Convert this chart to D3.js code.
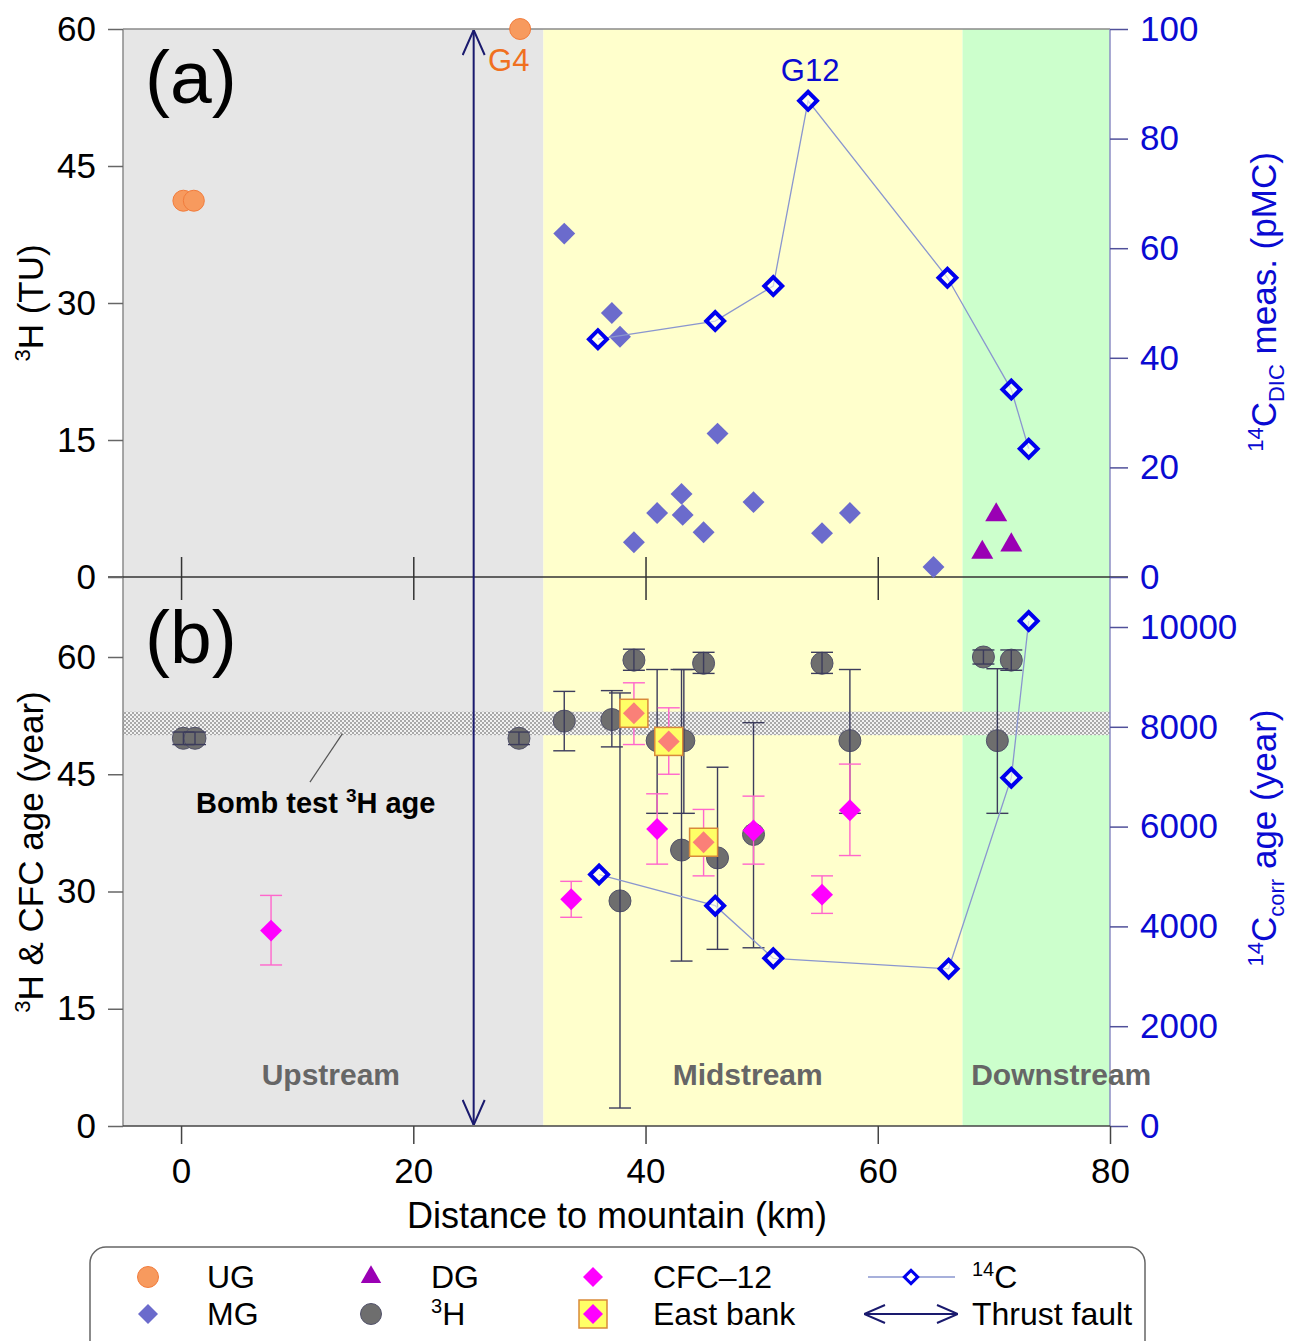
<!DOCTYPE html>
<html>
<head>
<meta charset="utf-8">
<script src="https://cdn.jsdelivr.net/npm/d3@7"></script>
<style>
body { margin: 0; background: #fff; }
text { font-family: "Liberation Sans", Arial, sans-serif; }
</style>
</head>
<body>
<script>
// ---- data ----
const zoneNames = ['Upstream', 'Midstream', 'Downstream']
const zoneEdges = [-5, 31.2, 67.3, 80]
const zoneLabelKm = [12.9, 48.8, 75.8]

const faultKm = 25.2
const bombBand = [50.0, 53.0]

// panel (a): 3H (TU)
const ugDist = [0.2, 1.1, 29.2]
const ugTU = [41.2, 41.2, 60.0]
const mgDist = [33.0, 37.1, 37.8, 46.2, 43.1, 41.0, 43.2, 45.0, 39.0, 49.3, 55.2, 57.6, 64.8]
const mgTU = [37.6, 28.9, 26.3, 15.7, 9.1, 7.0, 6.8, 4.9, 3.8, 8.2, 4.8, 7.0, 1.1]
const dgDist = [70.2, 69.0, 71.5]
const dgTU = [6.8, 2.7, 3.5]
// panel (a): 14C meas. (pMC)
const c14Dist = [35.9, 46.0, 51.0, 54.0, 66.0, 71.5, 73.0]
const c14pMC = [43.4, 46.7, 53.1, 86.9, 54.6, 34.2, 23.4]

// panel (b): 3H age (year)
const h3Dist = [0.2, 1.2, 29.1, 33.0, 37.1, 37.8, 39.0, 41.0, 43.3, 43.1, 45.0, 46.2, 49.3, 55.2, 57.6, 69.1, 71.5, 70.3]
const h3Age  = [49.6, 49.6, 49.6, 51.8, 52.0, 28.8, 59.6, 49.3, 49.3, 35.3, 59.2, 34.3, 37.3, 59.2, 49.3, 60.0, 59.6, 49.3]
const h3Lo   = [48.8, 48.8, 48.8, 48.0, 48.5, 2.3, 58.3, 40.0, 40.0, 21.1, 57.9, 22.6, 22.8, 57.9, 40.0, 59.1, 58.3, 40.0]
const h3Hi   = [50.4, 50.4, 50.4, 55.6, 55.7, 55.4, 61.0, 58.4, 58.4, 58.4, 60.6, 45.9, 51.6, 60.6, 58.4, 60.9, 60.9, 58.5]
// panel (b): CFC-12 age
const cfcDist = [7.75, 33.6, 41.0, 49.3, 55.2, 57.6]
const cfcAge = [25.0, 29.0, 38.0, 37.8, 29.6, 40.4]
const cfcLo = [20.6, 26.7, 33.5, 33.5, 27.2, 34.6]
const cfcHi = [29.5, 31.3, 42.5, 42.2, 32.0, 46.3]
// panel (b): east bank CFC-12
const ebDist = [39.0, 42.0, 45.0]
const ebAge = [52.8, 49.2, 36.3]
const ebLo = [48.8, 45.0, 32.0]
const ebHi = [56.7, 53.5, 40.5]
// panel (b): 14C corrected age
const c14AgeDist = [36.0, 46.0, 51.0, 66.1, 71.5, 73.0]
const c14Age = [5040, 4415, 3360, 3150, 6980, 10120]

const xTicks = [0, 20, 40, 60, 80]
const yTicksL = [0, 15, 30, 45, 60]
const yTicksA2 = [0, 20, 40, 60, 80, 100]
const yTicksB2 = [0, 2000, 4000, 6000, 8000, 10000]

// ---- layout ----
const zoneColors = ['#e6e6e6', '#ffffcc', '#ccffcc']
const blue = '#0a0ad2'
const navy = '#1a1a6e'
const fs = 35

const svg = d3.select('body').append('svg')
    .attr('width', 1291)
    .attr('height', 1341)

const x = d3.scaleLinear().domain([-5, 80]).range([123, 1110])
const yA = d3.scaleLinear().domain([0, 60]).range([577, 29])
const yA2 = d3.scaleLinear().domain([0, 100]).range([577, 29])
const yB = d3.scaleLinear().domain([0, 60]).range([1126, 657])
const yB2 = d3.scaleLinear().domain([0, 10000]).range([1126, 627])

const defs = svg.append('defs')
const pat = defs.append('pattern')
    .attr('id', 'hatch')
    .attr('width', 4).attr('height', 4)
    .attr('patternUnits', 'userSpaceOnUse')
pat.append('rect').attr('width', 4).attr('height', 4).attr('fill', '#f2f2f2')
pat.append('rect').attr('width', 2).attr('height', 2).attr('fill', '#a9a9a9')
pat.append('rect').attr('x', 2).attr('y', 2).attr('width', 2).attr('height', 2).attr('fill', '#a9a9a9')

function arrowMarker(id, len, half) {
  defs.append('marker')
      .attr('id', id)
      .attr('viewBox', `0 0 ${len} ${half * 2}`)
      .attr('refX', len).attr('refY', half)
      .attr('markerWidth', len).attr('markerHeight', half * 2)
      .attr('markerUnits', 'userSpaceOnUse')
      .attr('orient', 'auto-start-reverse')
    .append('path')
      .attr('d', `M1,1 L${len},${half} L1,${half * 2 - 1}`)
      .attr('fill', 'none')
      .attr('stroke', navy)
      .attr('stroke-width', 2)
}
arrowMarker('arr', 26, 12)
arrowMarker('arrS', 22, 10)

// zones
zoneNames.forEach((name, i) => {
  svg.append('rect')
      .attr('x', x(zoneEdges[i]))
      .attr('y', yA(60))
      .attr('width', x(zoneEdges[i + 1]) - x(zoneEdges[i]))
      .attr('height', yB(0) - yA(60))
      .attr('fill', zoneColors[i])
})

// bomb test band
svg.append('rect')
    .attr('x', x(-5))
    .attr('y', yB(bombBand[1]))
    .attr('width', x(80) - x(-5))
    .attr('height', yB(bombBand[0]) - yB(bombBand[1]))
    .attr('fill', 'url(#hatch)')

// frame
svg.append('line').attr('x1', x(-5)).attr('x2', x(80)).attr('y1', yA(60)).attr('y2', yA(60))
    .attr('stroke', '#8a8a8a').attr('stroke-width', 1.5)
svg.append('line').attr('x1', x(-5)).attr('x2', x(-5)).attr('y1', yA(60)).attr('y2', yB(0))
    .attr('stroke', '#8a8a8a').attr('stroke-width', 1.5)
svg.append('line').attr('x1', x(80)).attr('x2', x(80)).attr('y1', yA(60)).attr('y2', yB(0))
    .attr('stroke', '#8c8cc4').attr('stroke-width', 1.5)
svg.append('line').attr('x1', x(-5)).attr('x2', x(80)).attr('y1', yB(0)).attr('y2', yB(0))
    .attr('stroke', '#444').attr('stroke-width', 1.5)
svg.append('line').attr('x1', 108).attr('x2', 1128).attr('y1', yA(0)).attr('y2', yA(0))
    .attr('stroke', '#333').attr('stroke-width', 1.5)

// axes
function styleAxis(g, color, lineColor) {
  g.select('.domain').remove()
  g.attr('font-size', fs).attr('font-family', '"Liberation Sans", Arial, sans-serif')
  g.selectAll('.tick text').attr('fill', color)
  g.selectAll('.tick line').attr('stroke', lineColor).attr('stroke-width', 1.5)
}
const fmt = d3.format('d')
svg.append('g').attr('transform', `translate(${x(-5)},0)`)
    .call(d3.axisLeft(yA).tickValues(yTicksL).tickFormat(fmt).tickSize(15).tickPadding(12))
    .call(g => styleAxis(g, '#000', '#666'))
svg.append('g').attr('transform', `translate(${x(-5)},0)`)
    .call(d3.axisLeft(yB).tickValues(yTicksL).tickFormat(fmt).tickSize(15).tickPadding(12))
    .call(g => styleAxis(g, '#000', '#666'))
svg.append('g').attr('transform', `translate(${x(80)},0)`)
    .call(d3.axisRight(yA2).tickValues(yTicksA2).tickFormat(fmt).tickSize(18).tickPadding(12))
    .call(g => styleAxis(g, blue, '#50509a'))
svg.append('g').attr('transform', `translate(${x(80)},0)`)
    .call(d3.axisRight(yB2).tickValues(yTicksB2).tickFormat(fmt).tickSize(18).tickPadding(12))
    .call(g => styleAxis(g, blue, '#50509a'))
svg.append('g').attr('transform', `translate(0,${yB(0)})`)
    .call(d3.axisBottom(x).tickValues(xTicks).tickFormat(fmt).tickSize(18).tickPadding(14))
    .call(g => styleAxis(g, '#000', '#444'))
svg.append('g').attr('transform', `translate(0,${yA(0)})`)
    .call(d3.axisBottom(x).tickValues(xTicks.slice(0, 4)).tickSize(23).tickFormat(''))
    .call(g => styleAxis(g, '#000', '#333'))
    .call(g => g.selectAll('.tick line').attr('y1', -20))

// thrust fault
svg.append('line')
    .attr('x1', x(faultKm)).attr('x2', x(faultKm))
    .attr('y1', yA(60) + 1).attr('y2', yB(0) - 1)
    .attr('stroke', navy).attr('stroke-width', 2)
    .attr('marker-start', 'url(#arr)')
    .attr('marker-end', 'url(#arr)')

// region labels
zoneNames.forEach((name, i) => {
  svg.append('text')
      .attr('x', x(zoneLabelKm[i]))
      .attr('y', 1085)
      .attr('text-anchor', 'middle')
      .attr('font-size', 30)
      .attr('font-weight', 'bold')
      .attr('fill', '#666')
      .text(name)
})

const sq = d3.symbol().type(d3.symbolSquare)
const tri = d3.symbol().type(d3.symbolTriangle)

// ---- panel (a) ----
svg.append('g').selectAll('path')
  .data(d3.zip(mgDist, mgTU))
  .enter().append('path')
    .attr('d', sq.size(240)())
    .attr('transform', d => `translate(${x(d[0])},${yA(d[1])}) rotate(45)`)
    .attr('fill', '#6b6bcc')

const lineA = d3.line().x(d => x(d[0])).y(d => yA2(d[1]))
svg.append('path')
    .datum(d3.zip(c14Dist, c14pMC))
    .attr('d', lineA)
    .attr('fill', 'none')
    .attr('stroke', '#8a96cf')
    .attr('stroke-width', 1.3)
svg.append('g').selectAll('path')
  .data(d3.zip(c14Dist, c14pMC))
  .enter().append('path')
    .attr('d', sq.size(160)())
    .attr('transform', d => `translate(${x(d[0])},${yA2(d[1])}) rotate(45)`)
    .attr('fill', '#fff')
    .attr('fill-opacity', 0.6)
    .attr('stroke', '#0000ee')
    .attr('stroke-width', 4)

svg.append('g').selectAll('circle')
  .data(d3.zip(ugDist, ugTU))
  .enter().append('circle')
    .attr('cx', d => x(d[0]))
    .attr('cy', d => yA(d[1]))
    .attr('r', 10.5)
    .attr('fill', '#f79a5e')
    .attr('stroke', '#f27c3c')
    .attr('stroke-width', 1)

svg.append('g').selectAll('path')
  .data(d3.zip(dgDist, dgTU))
  .enter().append('path')
    .attr('d', tri.size(210)())
    .attr('transform', d => `translate(${x(d[0])},${yA(d[1])})`)
    .attr('fill', '#9a00b4')

svg.append('text')
    .attr('x', x(ugDist[2]) - 32)
    .attr('y', 71)
    .attr('font-size', 31)
    .attr('fill', '#f07020')
    .text('G4')
svg.append('text')
    .attr('x', x(c14Dist[3]) + 2)
    .attr('y', 81)
    .attr('text-anchor', 'middle')
    .attr('font-size', 31)
    .attr('fill', blue)
    .text('G12')

svg.append('text').attr('x', 145).attr('y', 103).attr('font-size', 75).text('(a)')
svg.append('text').attr('x', 145).attr('y', 663).attr('font-size', 75).text('(b)')

// ---- panel (b) ----
function errBars(data, color, half) {
  const g = svg.append('g').attr('stroke', color).attr('stroke-width', 1.4)
  data.forEach(d => {
    const cx = x(d[0])
    g.append('line').attr('x1', cx).attr('x2', cx).attr('y1', yB(d[1])).attr('y2', yB(d[2]))
    g.append('line').attr('x1', cx - half).attr('x2', cx + half).attr('y1', yB(d[1])).attr('y2', yB(d[1]))
    g.append('line').attr('x1', cx - half).attr('x2', cx + half).attr('y1', yB(d[2])).attr('y2', yB(d[2]))
  })
}

svg.append('g').selectAll('circle')
  .data(d3.zip(h3Dist, h3Age))
  .enter().append('circle')
    .attr('cx', d => x(d[0]))
    .attr('cy', d => yB(d[1]))
    .attr('r', 11)
    .attr('fill', '#6e6e6e')
    .attr('stroke', '#52526a')
    .attr('stroke-width', 1)
errBars(d3.zip(h3Dist, h3Lo, h3Hi), '#3c3c5c', 11)

errBars(d3.zip(cfcDist, cfcLo, cfcHi), '#ff66cc', 11)
svg.append('g').selectAll('path')
  .data(d3.zip(cfcDist, cfcAge))
  .enter().append('path')
    .attr('d', sq.size(240)())
    .attr('transform', d => `translate(${x(d[0])},${yB(d[1])}) rotate(45)`)
    .attr('fill', '#ff00ff')

errBars(d3.zip(ebDist, ebLo, ebHi), '#ff66cc', 11)
svg.append('g').selectAll('rect')
  .data(d3.zip(ebDist, ebAge))
  .enter().append('rect')
    .attr('x', d => x(d[0]) - 14)
    .attr('y', d => yB(d[1]) - 14)
    .attr('width', 28).attr('height', 28)
    .attr('fill', '#ffff66')
    .attr('stroke', '#d98a3a')
    .attr('stroke-width', 1.5)
svg.append('g').selectAll('path')
  .data(d3.zip(ebDist, ebAge))
  .enter().append('path')
    .attr('d', sq.size(240)())
    .attr('transform', d => `translate(${x(d[0])},${yB(d[1])}) rotate(45)`)
    .attr('fill', '#fa8078')

const lineB = d3.line().x(d => x(d[0])).y(d => yB2(d[1]))
svg.append('path')
    .datum(d3.zip(c14AgeDist, c14Age))
    .attr('d', lineB)
    .attr('fill', 'none')
    .attr('stroke', '#8a96cf')
    .attr('stroke-width', 1.3)
svg.append('g').selectAll('path')
  .data(d3.zip(c14AgeDist, c14Age))
  .enter().append('path')
    .attr('d', sq.size(160)())
    .attr('transform', d => `translate(${x(d[0])},${yB2(d[1])}) rotate(45)`)
    .attr('fill', '#fff')
    .attr('fill-opacity', 0.6)
    .attr('stroke', '#0000ee')
    .attr('stroke-width', 4)

// bomb test annotation
svg.append('line')
    .attr('x1', x(13.9)).attr('y1', yB(50.2))
    .attr('x2', x(11.1)).attr('y2', yB(44.0))
    .attr('stroke', '#555').attr('stroke-width', 1.2)
const bomb = svg.append('text')
    .attr('x', x(11.6)).attr('y', 813)
    .attr('text-anchor', 'middle')
    .attr('font-size', 29)
    .attr('font-weight', 'bold')
bomb.append('tspan').text('Bomb test ')
bomb.append('tspan').attr('font-size', 19).attr('dy', -11).text('3')
bomb.append('tspan').attr('dy', 11).text('H age')

// ---- axis titles ----
function rotTitle(cx, cy, color, parts) {
  const t = svg.append('text')
      .attr('transform', `translate(${cx},${cy}) rotate(-90)`)
      .attr('text-anchor', 'middle')
      .attr('font-size', fs)
      .attr('fill', color)
  parts.forEach(p => {
    const s = t.append('tspan').text(p[0])
    if (p[1] === 'sup') s.attr('font-size', 22).attr('dy', -13)
    if (p[1] === 'sub') s.attr('font-size', 22).attr('dy', 8)
    if (p[1] === 'back') s.attr('dy', 13)
    if (p[1] === 'up') s.attr('dy', -8)
  })
}
rotTitle(43, 303, '#000', [['3', 'sup'], ['H (TU)', 'back']])
rotTitle(43, 852, '#000', [['3', 'sup'], ['H & CFC age (year)', 'back']])
rotTitle(1276, 302, blue, [['14', 'sup'], ['C', 'back'], ['DIC', 'sub'], [' meas. (pMC)', 'up']])
rotTitle(1276, 838, blue, [['14', 'sup'], ['C', 'back'], ['corr', 'sub'], [' age (year)', 'up']])

svg.append('text')
    .attr('x', 617).attr('y', 1228)
    .attr('text-anchor', 'middle')
    .attr('font-size', 36)
    .text('Distance to mountain (km)')

// ---- legend ----
const leg = svg.append('g')
leg.append('rect')
    .attr('x', 90).attr('y', 1247)
    .attr('width', 1055).attr('height', 130)
    .attr('rx', 16)
    .attr('fill', '#fff')
    .attr('stroke', '#666')
    .attr('stroke-width', 1.5)
const r1 = 1277, r2 = 1314
leg.append('circle').attr('cx', 148).attr('cy', r1).attr('r', 10.5)
    .attr('fill', '#f79a5e').attr('stroke', '#f27c3c')
leg.append('path').attr('d', sq.size(200)()).attr('transform', `translate(148,${r2}) rotate(45)`)
    .attr('fill', '#6b6bcc')
leg.append('path').attr('d', tri.size(180)()).attr('transform', `translate(371,${r1})`)
    .attr('fill', '#9a00b4')
leg.append('circle').attr('cx', 371).attr('cy', r2).attr('r', 10.5)
    .attr('fill', '#6e6e6e').attr('stroke', '#52526a')
leg.append('path').attr('d', sq.size(200)()).attr('transform', `translate(593,${r1}) rotate(45)`)
    .attr('fill', '#ff00ff')
leg.append('rect').attr('x', 579).attr('y', r2 - 14).attr('width', 28).attr('height', 28)
    .attr('fill', '#ffff66').attr('stroke', '#d98a3a').attr('stroke-width', 1.5)
leg.append('path').attr('d', sq.size(200)()).attr('transform', `translate(593,${r2}) rotate(45)`)
    .attr('fill', '#ff00ff')
leg.append('line').attr('x1', 868).attr('x2', 955).attr('y1', r1).attr('y2', r1)
    .attr('stroke', '#8a96cf').attr('stroke-width', 1.3)
leg.append('path').attr('d', sq.size(90)()).attr('transform', `translate(911,${r1}) rotate(45)`)
    .attr('fill', '#fff').attr('stroke', '#0000ee').attr('stroke-width', 3)
leg.append('line').attr('x1', 864).attr('x2', 958).attr('y1', r2).attr('y2', r2)
    .attr('stroke', navy).attr('stroke-width', 2)
    .attr('marker-start', 'url(#arrS)').attr('marker-end', 'url(#arrS)')

function legText(tx, ty, parts) {
  const t = leg.append('text').attr('x', tx).attr('y', ty + 11).attr('font-size', 32)
  parts.forEach(p => {
    const s = t.append('tspan').text(p[0])
    if (p[1] === 'sup') s.attr('font-size', 20).attr('dy', -12)
    if (p[1] === 'back') s.attr('dy', 12)
  })
}
legText(207, r1, [['UG']])
legText(207, r2, [['MG']])
legText(431, r1, [['DG']])
legText(431, r2, [['3', 'sup'], ['H', 'back']])
legText(653, r1, [['CFC–12']])
legText(653, r2, [['East bank']])
legText(972, r1, [['14', 'sup'], ['C', 'back']])
legText(972, r2, [['Thrust fault']])
</script>
</body>
</html>
